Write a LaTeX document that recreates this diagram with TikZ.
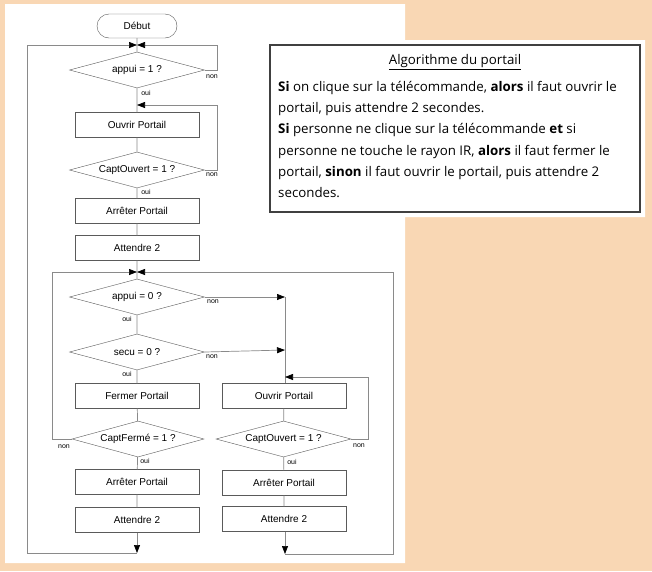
\documentclass[tikz,border=0pt]{standalone}
\usepackage{fontspec}
\setmainfont{Liberation Sans}
\newfontfamily\notefont{Open Sans}
\usetikzlibrary{shapes.geometric,arrows.meta}
\definecolor{peach}{HTML}{F9D7B4}
\definecolor{trait}{HTML}{8A8A8A}
\definecolor{bord}{HTML}{5A5A5A}
\tikzset{
    action/.style={draw=bord, rectangle, minimum width=124pt, minimum height=25pt, inner sep=1pt, font=\fontsize{10}{12}\selectfont},
    test/.style={draw=bord, diamond, aspect=3.75, minimum width=135pt, minimum height=36pt, inner sep=0pt, font=\fontsize{10}{12}\selectfont},
    debutbox/.style={draw=bord, rectangle, rounded corners=12pt, minimum width=80pt, minimum height=24pt, font=\fontsize{10}{12}\selectfont},
    lien/.style={draw=trait, line width=0.7pt},
    fleche/.style={lien, -{Triangle[length=8pt,width=6pt,black]}},
    rep/.style={font=\fontsize{7}{8}\selectfont, inner sep=0pt},
}
\begin{document}
\begin{tikzpicture}[x=1pt, y=-1pt]
        \useasboundingbox (0,0) rectangle (652,571);
        % fond
        \fill[peach] (0,0) rectangle (652,571);
        \fill[white] (5,4) -- (405,4) -- (405,40) -- (645,40) -- (645,217) -- (405,217) -- (405,563) -- (5,563) -- cycle;

        % premiere partie
        \node[debutbox] (debut) at (137,26) {Début};
        \coordinate (m1) at (137,45);
        \node[test] (t1) at (137,70) {appui = 1 ?};
        \coordinate (m2) at (137,105);
        \node[action] (b1) at (137,125) {Ouvrir Portail};
        \node[test] (t2) at (137,170) {CaptOuvert = 1 ?};
        \node[action] (b2) at (137,211) {Arrêter Portail};
        \node[action] (b3) at (137,248) {Attendre 2};

        % boucle principale
        \coordinate (m3) at (137,272);
        \node[test] (t3) at (137,297) {appui = 0 ?};
        \node[test] (t4) at (137,352) {secu = 0 ?};
        \node[action] (b4) at (137,396) {Fermer Portail};
        \node[test, minimum width=132pt] (t5) at (138,439) {CaptFermé = 1 ?};
        \node[action] (b5) at (137,482) {Arrêter Portail};
        \node[action] (b6) at (137,520) {Attendre 2};
        \coordinate (e1) at (137,553);

        % branche de droite
        \coordinate (j1) at (285,297);
        \coordinate (j2) at (285,350);
        \coordinate (m4) at (285,377);
        \node[action] (b7) at (284,396) {Ouvrir Portail};
        \node[test] (t6) at (283.5,439) {CaptOuvert = 1 ?};
        \node[action] (b8) at (284,483) {Arrêter Portail};
        \node[action] (b9) at (284,519) {Attendre 2};
        \coordinate (e2) at (285,554);

        % liaisons
        \draw[lien] (debut) -- (m1) -- (t1) -- (b1) (b1) -- (t2) -- (b2) -- (b3) -- (m3) -- (t3) -- (t4) -- (b4) -- (t5) -- (b5) -- (b6);
        \draw[lien] (j1) -- (b7.north -| j1);
        \draw[lien] (b7) -- (t6) -- (b8) -- (b9);

        \draw[fleche] (t1.east) -- (217,70) -- (217,45) -- (m1);
        \draw[fleche] (t2.east) -- (217,170) -- (217,105) -- (m2);
        \draw[fleche] (b6) -- (e1);
        \draw[fleche] (e1) -- (27,553) -- (27,45) -- (m1);

        \draw[fleche] (t3.east) -- (j1);
        \draw[fleche] (t4.east) -- (j2);
        \draw[fleche] (t5.west) -- (52,439) -- (52,272) -- (m3);
        \draw[fleche] (t6.east) -- (368,439) -- (368,377) -- (m4);
        \draw[fleche] (b9.south -| e2) -- (e2);
        \draw[fleche] (e2) -- (393,554) -- (393,272) -- (m3);

        % reponses
        \node[rep] (n1) at (212,77) {non};
        \node[rep] (o1) at (146,93) {oui};
        \node[rep] (n2) at (212,175) {non};
        \node[rep] (o2) at (146,192) {oui};
        \node[rep] (n3) at (213,302) {non};
        \node[rep] (o3) at (127,319) {oui};
        \node[rep] (n4) at (212,357) {non};
        \node[rep] (o4) at (127,374) {oui};
        \node[rep] (n5) at (64,447) {non};
        \node[rep] (o5) at (145,461) {oui};
        \node[rep] (n6) at (359,446) {non};
        \node[rep] (o6) at (292,462) {oui};

        % algorithme
        \node[draw=black!75, line width=1.2pt, minimum width=370pt, minimum height=167pt] (algo) at (455,128.5) {};
        \node[font=\notefont\fontsize{13.3}{15}\selectfont] (titre) at (455,62) {\underline{Algorithme du portail}};
        \node[anchor=north west, align=left, inner sep=0pt, font=\notefont\fontsize{13.3}{21.3}\selectfont] (texte) at (278,81)
            {\textbf{Si} on clique sur la télécommande, \textbf{alors} il faut ouvrir le\\
             portail, puis attendre 2 secondes.\\
             \textbf{Si} personne ne clique sur la télécommande \textbf{et} si\\
             personne ne touche le rayon IR, \textbf{alors} il faut fermer le\\
             portail, \textbf{sinon} il faut ouvrir le portail, puis attendre 2\\
             secondes.};
\end{tikzpicture}
\end{document}
